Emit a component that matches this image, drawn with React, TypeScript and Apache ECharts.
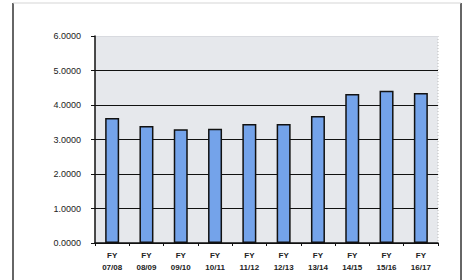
import React, { useEffect, useRef } from "react";
import * as echarts from "echarts";

const categories = ["FY\n07/08", "FY\n08/09", "FY\n09/10", "FY\n10/11", "FY\n11/12", "FY\n12/13", "FY\n13/14", "FY\n14/15", "FY\n15/16", "FY\n16/17"];
const values = [3.62, 3.39, 3.3, 3.31, 3.45, 3.45, 3.68, 4.32, 4.41, 4.35];
const yMin = 0;
const yMax = 6;
const yStep = 1;

export default function App() {
  const ref = useRef<HTMLDivElement>(null);
  useEffect(() => {
    if (!ref.current) return;
    const chart = echarts.init(ref.current, null, { renderer: "svg" });
    chart.setOption({
      animation: false,
      backgroundColor: "#ffffff",
      grid: {
        left: 95,
        right: 28,
        top: 36,
        bottom: 37,
        show: true,
        backgroundColor: "#e6e8ec",
        borderWidth: 0,
      },
      graphic: [
        { type: "line", shape: { x1: 13, y1: 3, x2: 13, y2: 280 }, style: { stroke: "#333", lineWidth: 1.5 } },
        { type: "line", shape: { x1: 461, y1: 3, x2: 461, y2: 280 }, style: { stroke: "#333", lineWidth: 1.5 } },
        { type: "line", shape: { x1: 13, y1: 3, x2: 461, y2: 3 }, style: { stroke: "#d5d5d5", lineWidth: 1 } },
        { type: "line", shape: { x1: 438, y1: 36, x2: 438, y2: 243 }, style: { stroke: "#bbbbbb", lineWidth: 1, lineDash: [1, 2] } },
      ],
      xAxis: {
        type: "category",
        data: categories,
        axisLine: { show: true, lineStyle: { color: "#111", width: 1.5 } },
        axisTick: { show: true, length: 3, lineStyle: { color: "#111" } },
        axisLabel: {
          color: "#222",
          fontFamily: "Liberation Sans, Arial, sans-serif",
          fontSize: 8,
          fontWeight: "bold",
          lineHeight: 12,
          margin: 6,
          interval: 0,
        },
      },
      yAxis: {
        type: "value",
        min: yMin,
        max: yMax,
        interval: yStep,
        axisLine: { show: true, lineStyle: { color: "#111", width: 1.5 } },
        axisTick: { show: true, length: 4, lineStyle: { color: "#111" } },
        splitLine: {
          show: true,
          lineStyle: { color: ["#111", "#111", "#111", "#111", "#111", "#111", "#d8dadf"], width: 1.2 },
        },
        axisLabel: {
          color: "#222",
          fontFamily: "Liberation Sans, Arial, sans-serif",
          fontSize: 9,
          margin: 14,
          formatter: (v: number) => v.toFixed(4),
        },
      },
      series: [
        {
          type: "bar",
          data: values,
          barWidth: 14,
          itemStyle: { color: "#74a3ea", borderColor: "#111", borderWidth: 1.5 },
        },
      ],
    });
    return () => chart.dispose();
  }, []);
  return <div ref={ref} style={{ position: "fixed", left: 0, top: 0, width: 466, height: 280 }} />;
}
